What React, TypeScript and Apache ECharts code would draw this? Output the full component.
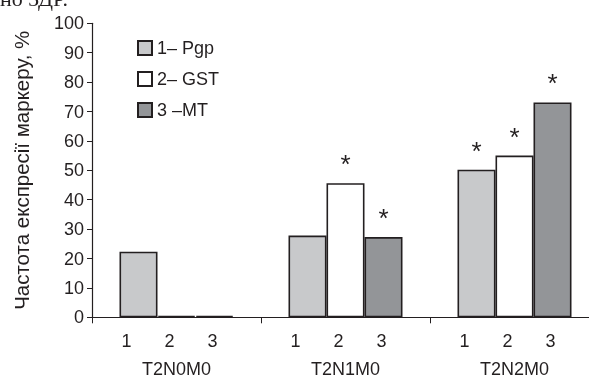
import React, { useEffect, useRef } from "react";
import * as echarts from "echarts";

const groups = ["T2N0M0", "T2N1M0", "T2N2M0"];
const seriesNames = ["1– Pgp", "2– GST", "3 –MT"];
const pgp = [22.3, 27.8, 50.2];
const gst = [0.5, 45.6, 55.0];
const mt = [0.5, 27.3, 73.1];
const pgpSig = [false, false, true];
const gstSig = [false, true, true];
const mtSig = [false, true, true];
const barNumbers = ["1", "2", "3"];
const yTicks = { min: 0, max: 100, interval: 10 };
const yTitle = "Частота експресії маркеру, %";
const topFragment = "но ЗДР.";

const FONT = "'Liberation Sans', Arial, sans-serif";
const TXT = "#231f20";
const colors = ["#c8c9cb", "#ffffff", "#939598"];

export default function App() {
  const ref = useRef<HTMLDivElement>(null);
  useEffect(() => {
    if (!ref.current) return;
    const chart = echarts.init(ref.current, null, { renderer: "svg" });
    const mk = (vals: number[], sig: boolean[]) =>
      vals.map((v, i) => ({
        value: v,
        label: { show: sig[i] },
      }));
    const sets = [
      [pgp, pgpSig],
      [gst, gstSig],
      [mt, mtSig],
    ] as [number[], boolean[]][];
    chart.setOption({
      animation: false,
      textStyle: { fontFamily: FONT },
      graphic: [
        {
          type: "text",
          left: 0,
          top: -13,
          style: { text: topFragment, fontFamily: "'Liberation Serif', serif", fontSize: 22, fill: TXT },
        },
      ],
      legend: {
        orient: "vertical",
        left: 137,
        top: 39,
        padding: 0,
        itemWidth: 14,
        itemHeight: 14,
        itemGap: 13,
        icon: "rect",
        data: seriesNames,
        textStyle: { fontSize: 18, color: TXT, fontFamily: FONT },
      },
      grid: { left: 92, top: 23.3, width: 507, height: 294, outerBoundsMode: "none", containLabel: false },
      xAxis: {
        type: "category",
        data: groups,
        axisLine: { lineStyle: { color: TXT, width: 1.2 } },
        axisTick: { show: true, length: 6, lineStyle: { color: TXT } },
        axisLabel: {
          margin: 9,
          interval: 0,
          formatter: (v: string) =>
            barNumbers.map((n) => `{n|${n}}`).join("") + "{s|}\n{g|" + v + "}",
          rich: {
            n: { width: 43, align: "center", fontSize: 18, lineHeight: 30, color: TXT, fontFamily: FONT },
            s: { width: 14, fontSize: 18, lineHeight: 30 },
            g: { fontSize: 18, lineHeight: 25, color: TXT, fontFamily: FONT, align: "center" },
          },
        },
      },
      yAxis: {
        type: "value",
        min: yTicks.min,
        max: yTicks.max,
        interval: yTicks.interval,
        name: yTitle,
        nameLocation: "middle",
        nameRotate: 90,
        nameGap: 60,
        nameTextStyle: { fontSize: 20.5, color: TXT, fontFamily: FONT },
        splitLine: { show: false },
        axisLine: { show: true, lineStyle: { color: TXT, width: 1.2 } },
        axisTick: { show: true, length: 5, lineStyle: { color: TXT } },
        axisLabel: { fontSize: 18, color: TXT, margin: 8, fontFamily: FONT },
      },
      series: sets.map(([vals, sig], k) => ({
        type: "bar",
        name: seriesNames[k],
        data: mk(vals, sig),
        barWidth: 38,
        barGap: "0%",
        itemStyle: { color: colors[k], borderColor: "#231f20", borderWidth: 1.6 },
        label: {
          position: "top",
          distance: 6,
          formatter: "*",
          fontSize: 26,
          color: TXT,
          fontFamily: FONT,
        },
      })),
    });
    return () => chart.dispose();
  }, []);
  return <div ref={ref} style={{ position: "fixed", left: 0, top: 0, width: 589, height: 378 }} />;
}
